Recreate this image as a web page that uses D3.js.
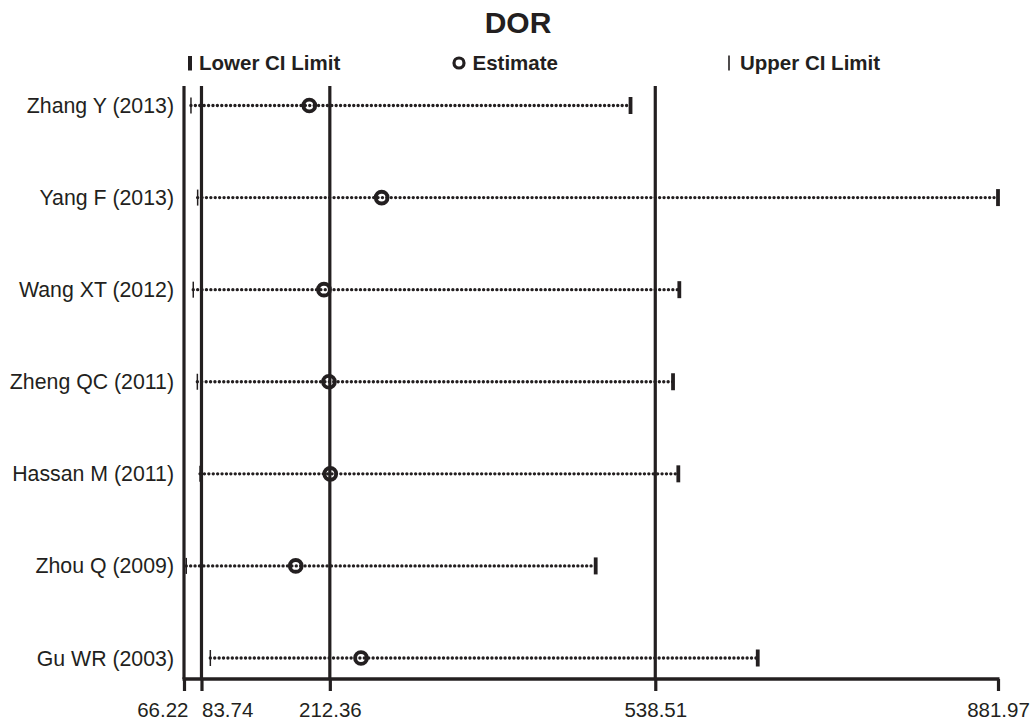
<!DOCTYPE html>
<html>
<head>
<meta charset="utf-8">
<script src="https://cdn.jsdelivr.net/npm/d3@7"></script>
<style>
  html, body { margin: 0; padding: 0; background: #fff; }
  svg { display: block; }
  text { font-family: "Liberation Sans", Arial, sans-serif; fill: #231f20; }
</style>
</head>
<body>
<svg id="chart" width="1032" height="723"></svg>
<script>
// Diagnostic odds ratio per study with 95% confidence interval
const studies  = ["Zhang Y (2013)", "Yang F (2013)", "Wang XT (2012)", "Zheng QC (2011)",
                  "Hassan M (2011)", "Zhou Q (2009)", "Gu WR (2003)"];
const estimate = [191.8, 264.3, 206.5, 211.5, 212.8, 178.2, 243.6];
const lowerCI  = [73.2, 79.9, 75.5, 79.6, 82.3, 68.5, 92.6];
const upperCI  = [513.7, 881.97, 562.6, 556.3, 561.6, 478.8, 641.2];

// Reference values marked on the axis
const tickValues = [66.22, 83.74, 212.36, 538.51, 881.97];
const refLines   = [66.22, 83.74, 212.36, 538.51];

const ink = "#231f20";
const svg = d3.select("#chart");

const x = d3.scaleLinear().domain([66.22, 881.97]).range([184, 998]);
const y = d3.scalePoint().domain(studies).range([105.5, 658]);

const axisY = 679, lineTop = 86, tickLen = 12;

// Title
svg.append("text")
  .attr("x", 518).attr("y", 33)
  .attr("text-anchor", "middle")
  .style("font-size", "30px").style("font-weight", "bold")
  .text("DOR");

// Legend
const lg = svg.append("g");
lg.append("line").attr("x1", 190).attr("x2", 190).attr("y1", 56).attr("y2", 70.5)
  .attr("stroke", ink).attr("stroke-width", 4);
lg.append("text").attr("x", 199).attr("y", 70).style("font-size", "20.5px").style("font-weight", "bold")
  .text("Lower CI Limit");
lg.append("circle").attr("cx", 459).attr("cy", 63).attr("r", 5)
  .attr("fill", "none").attr("stroke", ink).attr("stroke-width", 3.2);
lg.append("text").attr("x", 472.5).attr("y", 70).style("font-size", "20.5px").style("font-weight", "bold")
  .text("Estimate");
lg.append("line").attr("x1", 729).attr("x2", 729).attr("y1", 55.5).attr("y2", 70.5)
  .attr("stroke", ink).attr("stroke-width", 1.6);
lg.append("text").attr("x", 740).attr("y", 70).style("font-size", "20.5px").style("font-weight", "bold")
  .text("Upper CI Limit");

// Vertical reference lines
svg.append("g").selectAll("line").data(refLines).join("line")
  .attr("x1", d => x(d)).attr("x2", d => x(d))
  .attr("y1", lineTop).attr("y2", axisY)
  .attr("stroke", ink).attr("stroke-width", 3.2);

// Bottom axis
const axis = d3.axisBottom(x).tickValues(tickValues).tickSize(tickLen).tickSizeOuter(0)
  .tickFormat(d3.format(".2f")).tickPadding(11);
const ag = svg.append("g").attr("transform", `translate(0,${axisY})`).call(axis);
ag.select(".domain").attr("stroke", ink).attr("stroke-width", 3.5)
  .attr("d", `M${x(66.22) - 1.5},0H${x(881.97) + 1.5}`);
ag.selectAll(".tick line").attr("stroke", ink).attr("stroke-width", 3.2);
ag.selectAll(".tick text").attr("fill", ink).style("font-size", "20.5px")
  .style("font-family", "'Liberation Sans', Arial, sans-serif");
// The two closely spaced left ticks: label one to the left, one to the right
ag.selectAll(".tick text")
  .attr("text-anchor", (d, i) => i === 0 ? "end" : i === 1 ? "start" : "middle")
  .attr("x", (d, i) => i === 0 ? 4 : 0);

// Study rows
const rows = svg.append("g").selectAll("g").data(studies).join("g")
  .attr("transform", d => `translate(0,${y(d)})`);

rows.append("text")
  .attr("x", 174).attr("y", 7.5)
  .attr("text-anchor", "end")
  .style("font-size", "21.3px")
  .text(d => d);

// Dotted CI span
rows.append("line")
  .attr("x1", (d, i) => x(lowerCI[i])).attr("x2", (d, i) => x(upperCI[i]))
  .attr("y1", 0).attr("y2", 0)
  .attr("stroke", ink).attr("stroke-width", 3.4)
  .attr("stroke-linecap", "round").attr("stroke-dasharray", "0 4.4");

// Lower limit (thin) and upper limit (thick) markers
rows.append("line")
  .attr("x1", (d, i) => x(lowerCI[i])).attr("x2", (d, i) => x(lowerCI[i]))
  .attr("y1", -8).attr("y2", 8)
  .attr("stroke", ink).attr("stroke-width", 1.5);
rows.append("line")
  .attr("x1", (d, i) => x(upperCI[i])).attr("x2", (d, i) => x(upperCI[i]))
  .attr("y1", -8.5).attr("y2", 8.5)
  .attr("stroke", ink).attr("stroke-width", 3.8);

// Point estimates
rows.append("circle")
  .attr("cx", (d, i) => x(estimate[i])).attr("cy", 0).attr("r", 5.9)
  .attr("fill", "none").attr("stroke", ink).attr("stroke-width", 3.9);
</script>
</body>
</html>
